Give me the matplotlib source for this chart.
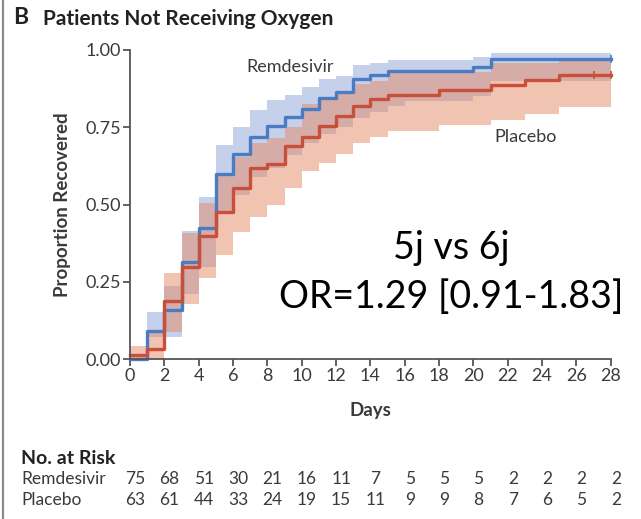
import matplotlib
matplotlib.use("Agg")
import matplotlib.pyplot as plt
import numpy as np
from matplotlib.lines import Line2D
from matplotlib.transforms import blended_transform_factory

W, H = 641, 519

# Kaplan-Meier style cumulative recovery, one value per day interval [d, d+1)
days = np.arange(0, 29)
remdesivir = [0.00, 0.09, 0.16, 0.316, 0.424, 0.598, 0.665, 0.72, 0.754, 0.782,
              0.81, 0.845, 0.865, 0.905, 0.918, 0.932, 0.932, 0.932, 0.932, 0.932,
              0.944, 0.97, 0.97, 0.97, 0.97, 0.97, 0.97, 0.97]
remdesivir_lo = [0.00, 0.073, 0.073, 0.21, 0.30, 0.47, 0.53, 0.59, 0.62, 0.66,
                 0.70, 0.73, 0.75, 0.78, 0.80, 0.82, 0.835, 0.835, 0.835, 0.835,
                 0.85, 0.90, 0.90, 0.90, 0.90, 0.90, 0.90, 0.90]
remdesivir_hi = [0.00, 0.154, 0.237, 0.415, 0.525, 0.693, 0.75, 0.805, 0.837, 0.855,
                 0.88, 0.905, 0.915, 0.951, 0.959, 0.968, 0.968, 0.968, 0.968, 0.968,
                 0.976, 0.989, 0.989, 0.989, 0.989, 0.989, 0.989, 0.989]
placebo = [0.014, 0.033, 0.19, 0.30, 0.40, 0.475, 0.555, 0.62, 0.63, 0.69,
           0.72, 0.755, 0.785, 0.82, 0.84, 0.855, 0.855, 0.855, 0.87, 0.87,
           0.87, 0.887, 0.887, 0.903, 0.903, 0.919, 0.919, 0.919]
placebo_lo = [0.00, 0.00, 0.089, 0.178, 0.262, 0.337, 0.413, 0.46, 0.50, 0.555,
              0.61, 0.635, 0.664, 0.70, 0.718, 0.738, 0.738, 0.738, 0.756, 0.756,
              0.756, 0.774, 0.774, 0.793, 0.793, 0.815, 0.815, 0.815]
placebo_hi = [0.044, 0.09, 0.28, 0.407, 0.504, 0.594, 0.655, 0.70, 0.715, 0.752,
              0.825, 0.845, 0.865, 0.89, 0.90, 0.927, 0.927, 0.927, 0.93, 0.93,
              0.93, 0.958, 0.958, 0.958, 0.958, 0.966, 0.966, 0.966]
placebo_censor = [27.0]

risk_days = np.arange(0, 29, 2)
risk_remdesivir = [75, 68, 51, 30, 21, 16, 11, 7, 5, 5, 5, 2, 2, 2, 2]
risk_placebo = [63, 61, 44, 33, 24, 19, 15, 11, 9, 9, 8, 7, 6, 5, 2]

BLUE = "#4a7cc1"
RED = "#c8503a"
BLUE_BAND = "#869fd7"
RED_BAND = "#e58965"
INK = "#3a3a3a"
FONT = "Lato"


def ext(values):
    """Repeat the last value so the step reaches day 28."""
    return np.append(values, values[-1])


def fxy(x, y):
    return x / W, 1 - y / H


fig = plt.figure(figsize=(W / 100, H / 100), dpi=100)
ax = fig.add_axes([130 / W, 1 - 359.3 / H, 480.7 / W, 309.3 / H])

ax.fill_between(days, ext(remdesivir_lo), ext(remdesivir_hi), step="post",
                color=BLUE_BAND, alpha=0.48, linewidth=0)
ax.fill_between(days, ext(placebo_lo), ext(placebo_hi), step="post",
                color=RED_BAND, alpha=0.5, linewidth=0)
ax.step(days, ext(remdesivir), where="post", color=BLUE, linewidth=2.4, clip_on=False)
ax.step(days, ext(placebo), where="post", color=RED, linewidth=2.4, clip_on=False)
ax.plot([28], [remdesivir[-1]], marker="|", color=BLUE, markersize=6, mew=1.2, clip_on=False)
ax.plot(placebo_censor + [28], [placebo[-1]] * 2, linestyle="none", marker="|",
        color=RED, markersize=6, mew=1.2, clip_on=False)

ax.set_xlim(0, 28)
ax.set_ylim(0, 1)
ax.set_xticks(np.arange(0, 29, 2))
ax.set_yticks([0, 0.25, 0.5, 0.75, 1.0])
ax.set_yticklabels(["0.00", "0.25", "0.50", "0.75", "1.00"])
for side in ("top", "right"):
    ax.spines[side].set_visible(False)
for side in ("left", "bottom"):
    ax.spines[side].set_color("#555555")
    ax.spines[side].set_linewidth(1.3)
ax.tick_params(direction="out", length=5, width=1.3, color="#555555",
               labelcolor=INK, labelsize=13, pad=1.5)
for lab in ax.get_xticklabels() + ax.get_yticklabels():
    lab.set_family(FONT)

ax.set_xlabel("Days", family=FONT, fontweight="bold", fontsize=13.5, color=INK, labelpad=13)
ax.set_ylabel("Proportion Recovered", family=FONT, fontweight="bold", fontsize=13.5,
              color=INK, labelpad=10)

fig.text(*fxy(290, 67), "Remdesivir", family=FONT, fontsize=13, color=INK,
         ha="center", va="center")
fig.text(*fxy(526, 137), "Placebo", family=FONT, fontsize=13, color=INK,
         ha="center", va="center")

# panel heading
fig.text(*fxy(13, 18), "B", family=FONT, fontweight="bold", fontsize=16.5,
         color="#222222", ha="left", va="center")
fig.text(*fxy(43, 19), "Patients Not Receiving Oxygen", family=FONT, fontweight="bold",
         fontsize=15, color="#222222", ha="left", va="center")

# odds ratio annotation
fig.text(*fxy(451, 248), "5j vs 6j", family=FONT, fontsize=27, color="black",
         ha="center", va="center")
fig.text(*fxy(451, 297), "OR=1.29 [0.91-1.83]", family=FONT, fontsize=27, color="black",
         ha="center", va="center")

# number at risk table
fig.text(*fxy(21, 458), "No. at Risk", family=FONT, fontweight="bold", fontsize=14,
         color="#222222", ha="left", va="center")
fig.text(*fxy(21, 479), "Remdesivir", family=FONT, fontsize=12.5, color=INK,
         ha="left", va="center")
fig.text(*fxy(21, 500), "Placebo", family=FONT, fontsize=12.5, color=INK,
         ha="left", va="center")
row_tf = blended_transform_factory(ax.transData, fig.transFigure)
for d, r, p in zip(risk_days, risk_remdesivir, risk_placebo):
    ax.text(d + 0.3, 1 - 479 / H, str(r), transform=row_tf, family=FONT, fontsize=12.5,
            color=INK, ha="center", va="center", clip_on=False)
    ax.text(d + 0.3, 1 - 500 / H, str(p), transform=row_tf, family=FONT, fontsize=12.5,
            color=INK, ha="center", va="center", clip_on=False)

# left frame rule of the panel
fig.add_artist(Line2D([2.5 / W, 2.5 / W], [0, 1], transform=fig.transFigure,
                      color="#8a8a8a", linewidth=1.6))

fig.savefig("out.png", dpi=100)
